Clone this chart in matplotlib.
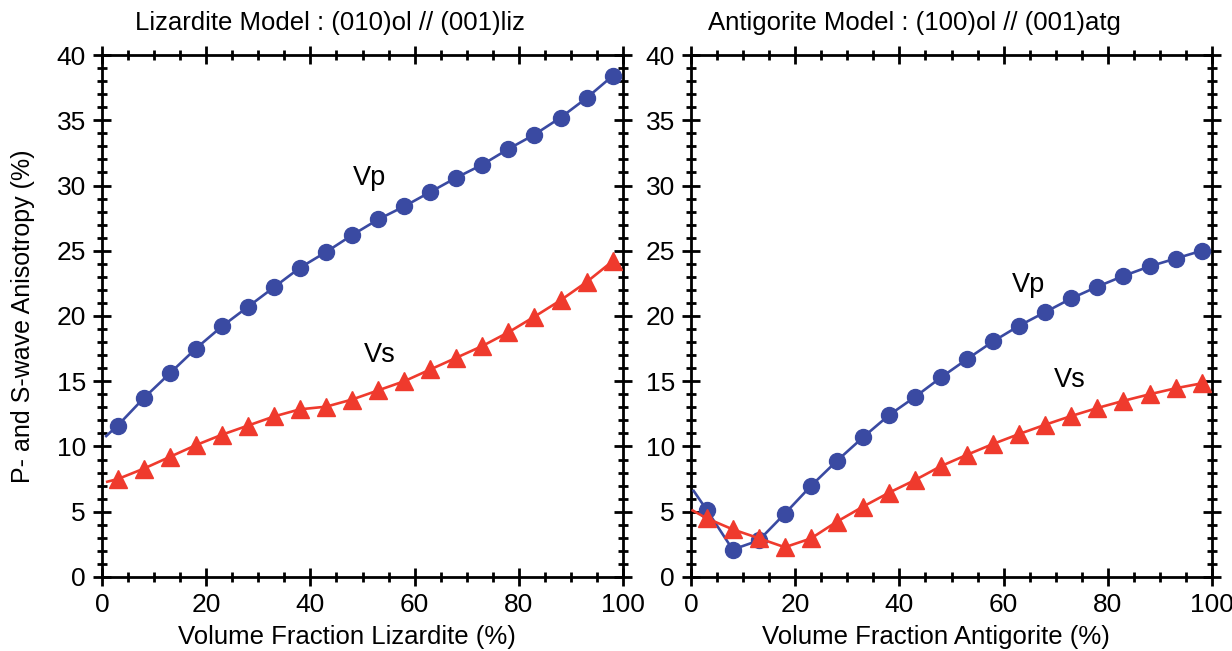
import matplotlib.pyplot as plt
from matplotlib.ticker import MultipleLocator

# volume fraction (%) where the models were evaluated
vol = [3, 8, 13, 18, 23, 28, 33, 38, 43, 48, 53, 58, 63, 68, 73, 78, 83, 88, 93, 98]

# lizardite model
liz_vp = [11.6, 13.7, 15.6, 17.5, 19.2, 20.7, 22.2, 23.7, 24.9, 26.2,
          27.4, 28.4, 29.5, 30.6, 31.6, 32.8, 33.9, 35.2, 36.7, 38.4]
liz_vs = [7.5, 8.3, 9.2, 10.1, 10.9, 11.6, 12.3, 12.85, 13.05, 13.6,
          14.3, 15.0, 15.9, 16.8, 17.7, 18.75, 19.95, 21.2, 22.6, 24.2]
# curves start a little before the first marker
liz_vp_start = (0.8, 10.8)
liz_vs_start = (1.0, 7.3)

# antigorite model
atg_vp = [5.15, 2.1, 2.8, 4.85, 6.97, 8.9, 10.7, 12.4, 13.8, 15.3,
          16.7, 18.06, 19.26, 20.3, 21.35, 22.25, 23.07, 23.8, 24.4, 25.0]
atg_vs = [4.5, 3.65, 2.97, 2.28, 2.95, 4.24, 5.39, 6.46, 7.43, 8.5,
          9.37, 10.2, 10.96, 11.67, 12.34, 12.95, 13.5, 14.0, 14.46, 14.84]
atg_vp_start = (0.5, 6.6)
atg_vs_start = (0.3, 5.1)

blue = '#3a4aa2'
red = '#ef3a2d'

plt.rcParams['font.family'] = ['Liberation Sans', 'DejaVu Sans']

fig = plt.figure(figsize=(12.32, 6.51), dpi=100)
ax1 = fig.add_axes([0.0828, 0.1137, 0.4229, 0.8018])
ax2 = fig.add_axes([0.5609, 0.1137, 0.4229, 0.8018])


def draw_panel(ax, vp, vs, vp_start, vs_start, title, title_x, xlabel, lbl_vp, lbl_vs):
    ax.plot([vp_start[0]] + vol, [vp_start[1]] + vp, color=blue, lw=1.9,
            marker='o', ms=11.5, markevery=slice(1, None), zorder=3)
    ax.plot([vs_start[0]] + vol, [vs_start[1]] + vs, color=red, lw=1.9,
            marker='^', ms=13, markevery=slice(1, None), zorder=4)

    ax.set_xlim(0, 100)
    ax.set_ylim(0, 40)
    ax.xaxis.set_major_locator(MultipleLocator(20))
    ax.xaxis.set_minor_locator(MultipleLocator(5))
    ax.yaxis.set_major_locator(MultipleLocator(5))
    ax.yaxis.set_minor_locator(MultipleLocator(1))
    ax.tick_params(which='both', direction='inout', top=True, right=True,
                   width=2, labelsize=19)
    ax.tick_params(which='major', length=13, pad=5)
    ax.tick_params(which='minor', length=6.5)
    for sp in ax.spines.values():
        sp.set_linewidth(2)

    ax.text(title_x, 1.048, title, transform=ax.transAxes, ha='center',
            va='baseline', fontsize=18.5)
    ax.set_xlabel(xlabel, fontsize=18.5)
    ax.xaxis.set_label_coords(0.47, -0.092)

    ax.text(lbl_vp[0], lbl_vp[1], 'Vp', fontsize=19.5, ha='center', va='center')
    ax.text(lbl_vs[0], lbl_vs[1], 'Vs', fontsize=19.5, ha='center', va='center')


draw_panel(ax1, liz_vp, liz_vs, liz_vp_start, liz_vs_start,
           'Lizardite Model : (010)ol // (001)liz', 0.4376,
           'Volume Fraction Lizardite (%)', (51.4, 30.6), (53.4, 17.0))
draw_panel(ax2, atg_vp, atg_vs, atg_vp_start, atg_vs_start,
           'Antigorite Model : (100)ol // (001)atg', 0.428,
           'Volume Fraction Antigorite (%)', (64.7, 22.4), (72.7, 15.1))

ax1.set_ylabel('P- and S-wave Anisotropy (%)', fontsize=18)
ax1.yaxis.set_label_coords(-0.128, 0.5)

fig.savefig('out.png', dpi=100)
